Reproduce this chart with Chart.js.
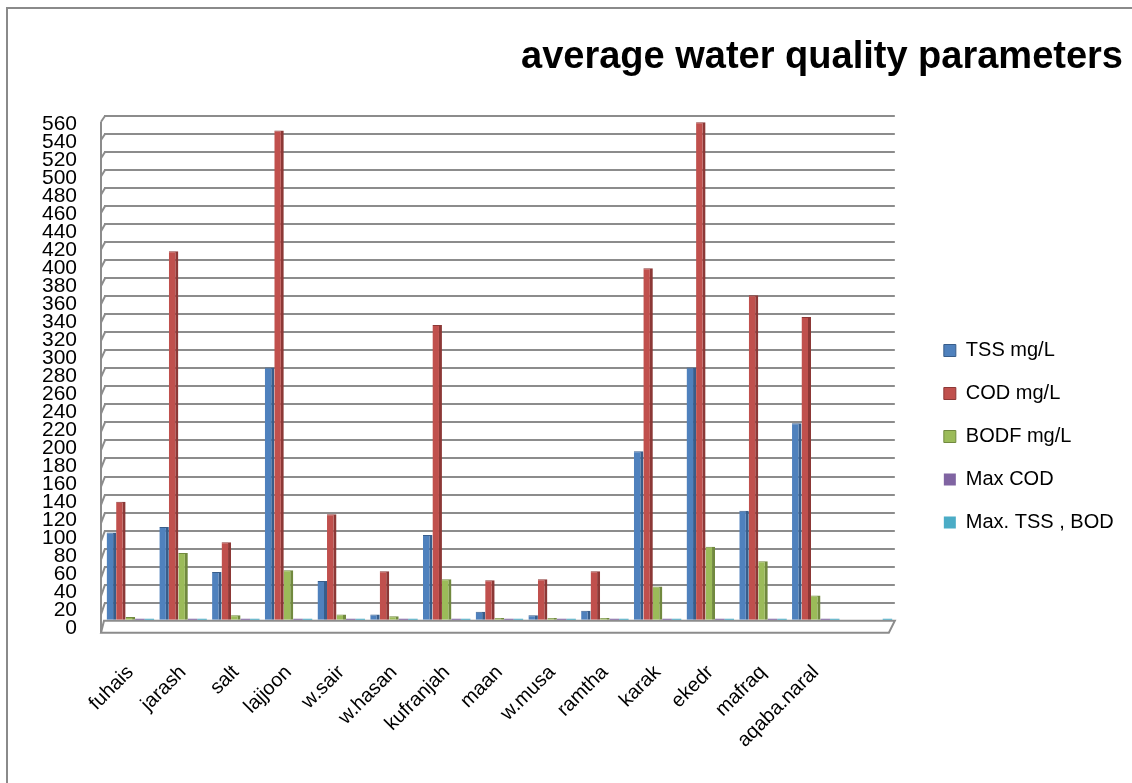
<!DOCTYPE html>
<html>
<head>
<meta charset="utf-8">
<title>average water quality parameters</title>
<script src="https://cdn.jsdelivr.net/npm/chart.js@4.4.1/dist/chart.umd.min.js"></script>
<style>
  html, body { margin: 0; padding: 0; background: #ffffff; }
  #wrap { width: 1132px; height: 783px; position: relative; }
</style>
</head>
<body>
<div id="wrap"><canvas id="c" width="1132" height="783"></canvas></div>
<script>
// Stations (the last slot is an unlabelled spare column)
const stations = ['fuhais', 'jarash', 'salt', 'lajjoon', 'w.sair', 'w.hasan', 'kufranjah',
  'maan', 'w.musa', 'ramtha', 'karak', 'ekedr', 'mafraq', 'aqaba.naral', ''];

// Average values per station
const tssMgL  = [98, 104, 54, 281, 44, 7, 95, 10, 6, 11, 188, 281, 122, 219, null];
const codMgL  = [132, 410, 87, 544, 118, 55, 328, 45, 46, 55, 391, 553, 361, 337, null];
const bodfMgL = [4, 75, 6, 56, 7, 5, 46, 3, 3, 3, 38, 82, 66, 28, null];
const maxCod  = [0, 0, 0, 0, 0, 0, 0, 0, 0, 0, 0, 0, 0, 0, null];
const maxTssBod = [0, 0, 0, 0, 0, 0, 0, 0, 0, 0, 0, 0, 0, 0, 0];

// Axis range
const yMin = 0, yMax = 560, yStep = 20;

const FONT = "'Liberation Sans', Arial, sans-serif";
const GRID = '#8c8c8c';

// Front face of the 3-D box: map a back-wall pixel to its front-plane pixel
function frontY(area, backY) {
  return area.top + 5.7 + (backY - area.top) * 1.0125;
}

// Draws the outer frame, the left wall edge and the floor slab
const boxDecor = {
  id: 'boxDecor',
  afterLayout(chart) {
    // widen the legend column towards the plot and drop it to the middle of the wall
    const lg = chart.legend;
    if (lg) {
      lg.left -= 22;
      lg.top += 40; lg.bottom += 40;
    }
  },
  beforeDatasetsDraw(chart) {
    const { ctx, chartArea: a, scales } = chart;
    const y = scales.y;
    ctx.save();
    ctx.strokeStyle = GRID;
    ctx.lineWidth = 2;
    const fx = a.left - 3;
    // left front edge
    ctx.beginPath();
    ctx.moveTo(fx, frontY(a, y.getPixelForValue(yMax)));
    ctx.lineTo(fx, frontY(a, y.getPixelForValue(yMin)));
    ctx.stroke();
    // short depth strokes from the wall grid to the front edge
    for (let v = yMin; v <= yMax; v += yStep) {
      const by = y.getPixelForValue(v);
      ctx.beginPath();
      ctx.moveTo(a.left + 1, by);
      ctx.lineTo(fx, frontY(a, by));
      ctx.stroke();
    }
    // floor
    const b0 = y.getPixelForValue(yMin);
    const f0 = frontY(a, b0);
    ctx.fillStyle = '#ffffff';
    ctx.beginPath();
    ctx.moveTo(a.left, b0);
    ctx.lineTo(a.right, b0);
    ctx.lineTo(a.right - 6, f0);
    ctx.lineTo(fx, f0);
    ctx.closePath();
    ctx.fill();
    ctx.stroke();
    ctx.restore();
  },
  afterDraw(chart) {
    const { ctx } = chart;
    ctx.save();
    ctx.strokeStyle = '#8a8a8a';
    ctx.lineWidth = 2;
    ctx.strokeRect(7, 8, 1140, 800);
    ctx.restore();
  }
};

function series(label, data, face, side) {
  return {
    label,
    data,
    backgroundColor: face,
    borderColor: side,
    borderWidth: { top: 1, right: 3, bottom: 0, left: 0 },
    borderSkipped: 'bottom',
    categoryPercentage: 0.9,
    barPercentage: 1.0
  };
}

const flatSeries = (label, data, face) => ({
  label,
  data,
  backgroundColor: face,
  borderWidth: 0,
  minBarLength: 2,
  categoryPercentage: 0.9,
  barPercentage: 1.0
});

new Chart(document.getElementById('c'), {
  type: 'bar',
  data: {
    labels: stations,
    datasets: [
      series('TSS mg/L', tssMgL, '#4f81bd', '#385d8a'),
      series('COD mg/L', codMgL, '#c0504d', '#8c3836'),
      series('BODF mg/L', bodfMgL, '#9bbb59', '#71893f'),
      flatSeries('Max COD', maxCod, '#8064a2'),
      flatSeries('Max. TSS , BOD', maxTssBod, '#4bacc6')
    ]
  },
  options: {
    responsive: false,
    animation: false,
    layout: { padding: { top: 10, right: 9, bottom: 0, left: 42 } },
    plugins: {
      title: {
        display: true,
        text: 'average water quality parameters',
        align: 'end',
        color: '#000000',
        font: { family: FONT, size: 38, weight: 'bold' },
        padding: { top: 25, bottom: 35.4 }
      },
      legend: {
        position: 'right',
        align: 'center',
        labels: {
          color: '#000000',
          font: { family: FONT, size: 20 },
          boxWidth: 12,
          boxHeight: 12,
          padding: 23
        }
      },
      tooltip: { enabled: false }
    },
    scales: {
      x: {
        grid: { display: false, drawTicks: false },
        border: { display: false },
        ticks: {
          color: '#000000',
          font: { family: FONT, size: 20 },
          minRotation: 45,
          maxRotation: 45,
          autoSkip: false,
          padding: 40
        },
        afterFit(s) { s.height = 162.3; }
      },
      y: {
        min: yMin,
        max: yMax,
        grid: { color: GRID, lineWidth: 2, drawTicks: false },
        border: { display: false },
        ticks: {
          stepSize: yStep,
          autoSkip: false,
          color: '#000000',
          font: { family: FONT, size: 21 },
          padding: 27,
          labelOffset: 8
        },
        afterFit(s) { s.width = 62; }
      },
      gap: {
        type: 'linear',
        position: 'right',
        display: true,
        grid: { display: false },
        border: { display: false },
        ticks: { display: false },
        afterFit(s) { s.width = 48; }
      }
    }
  },
  plugins: [boxDecor]
});
</script>
</body>
</html>
